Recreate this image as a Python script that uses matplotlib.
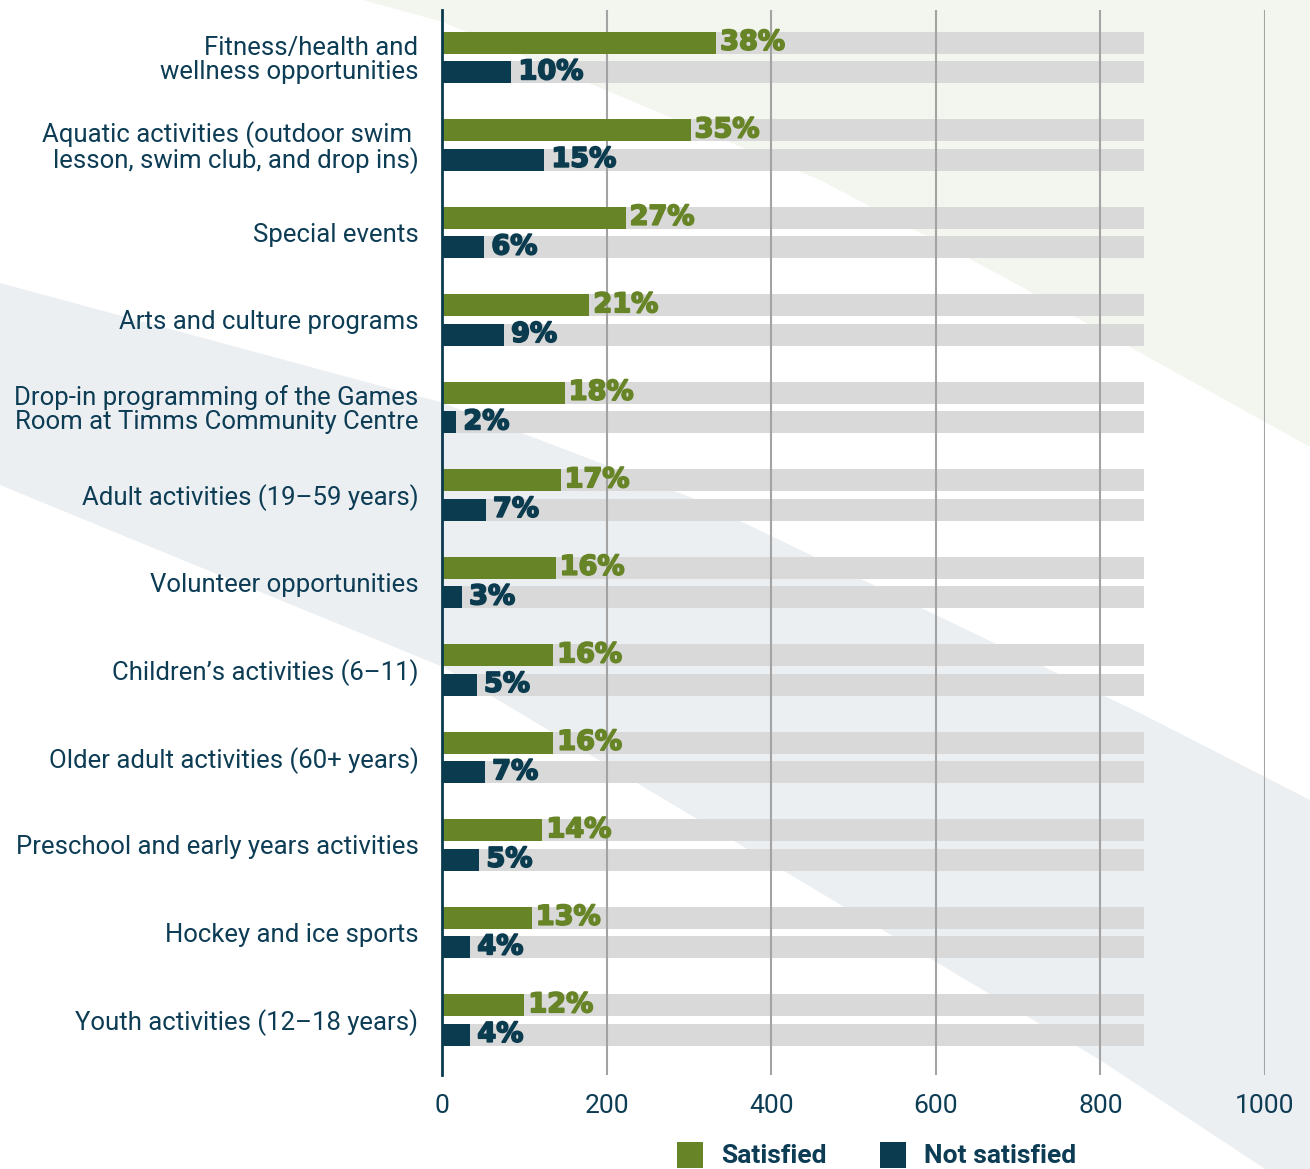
import matplotlib.pyplot as plt
import matplotlib.patheffects as pe
import numpy as np
from matplotlib.patches import Polygon, Rectangle

# survey results: respondents satisfied / not satisfied per program area
categories = [
    "Fitness/health and\nwellness opportunities",
    "Aquatic activities (outdoor swim \nlesson, swim club, and drop ins)",
    "Special events",
    "Arts and culture programs",
    "Drop-in programming of the Games\nRoom at Timms Community Centre",
    "Adult activities (19\u201359 years)",
    "Volunteer opportunities",
    "Children\u2019s activities (6\u201311)",
    "Older adult activities (60+ years)",
    "Preschool and early years activities",
    "Hockey and ice sports",
    "Youth activities (12\u201318 years)",
]
satisfied = [333, 302, 223, 179, 149, 144, 138, 135, 135, 122, 109, 100]
not_satisfied = [84, 124, 51, 75, 17, 53, 24, 42, 52, 45, 34, 34]
satisfied_pct = ["38%", "35%", "27%", "21%", "18%", "17%", "16%", "16%", "16%", "14%", "13%", "12%"]
not_satisfied_pct = ["10%", "15%", "6%", "9%", "2%", "7%", "3%", "5%", "7%", "5%", "4%", "4%"]
total_respondents = 853
x_ticks = [0, 200, 400, 600, 800, 1000]

GREEN = "#678527"
NAVY = "#0b3b4f"
TEXT = "#0d3c55"
TRACK = "#d9d9d9"
GRID = "#a3a3a3"

plt.rcParams["font.family"] = ["Roboto", "DejaVu Sans"]

W, H = 1310, 1169
fig = plt.figure(figsize=(W / 100, H / 100), dpi=100)
fig.patch.set_facecolor("white")


def px(points):
    # pixel coords (origin top-left) -> figure fraction
    return [(x / W, 1 - y / H) for x, y in points]


# decorative background swooshes
green_shape = [(363, 0), (1310, 0), (1310, 447), (1000, 275), (820, 180), (443, 22)]
band_shape = [(0, 283), (440, 402), (690, 497), (1140, 713), (1310, 800), (1310, 1169),
              (1265, 1169), (1100, 1060), (443, 667), (0, 485)]
fig.patches.append(Polygon(px(green_shape), closed=True, transform=fig.transFigure,
                           facecolor="#f3f5ef", edgecolor="none", zorder=-2))
fig.patches.append(Polygon(px(band_shape), closed=True, transform=fig.transFigure,
                           facecolor="#eceff2", edgecolor="none", zorder=-2))

ax = fig.add_axes([442 / W, 1 - 1075 / H, 823 / W, 1065 / H])
ax.set_facecolor("none")
ax.set_zorder(1)

y = np.arange(len(categories))
off = 0.169
h = 0.25

# grey tracks behind each bar
ax.barh(y - off, total_respondents, height=h, color=TRACK, zorder=1)
ax.barh(y + off, total_respondents, height=h, color=TRACK, zorder=1)
ax.barh(y - off, satisfied, height=h, color=GREEN, zorder=3)
ax.barh(y + off, not_satisfied, height=h, color=NAVY, zorder=3)

# heavy percentage labels (thin stroke in the same colour to fatten the glyphs)
for i in range(len(categories)):
    ax.text(satisfied[i] + 5, y[i] - off, satisfied_pct[i], color=GREEN,
            family="DejaVu Sans", fontsize=19.5, fontweight="bold",
            va="center", ha="left", zorder=4,
            path_effects=[pe.withStroke(linewidth=1.3, foreground=GREEN)])
    ax.text(not_satisfied[i] + 9, y[i] + off, not_satisfied_pct[i], color=NAVY,
            family="DejaVu Sans", fontsize=19.5, fontweight="bold",
            va="center", ha="left", zorder=4,
            path_effects=[pe.withStroke(linewidth=1.3, foreground=NAVY)])

ax.set_xlim(0, 1000)
ax.set_ylim(len(categories) - 1 + 0.629, -0.543)
ax.set_xticks(x_ticks)
ax.set_xticklabels([str(t) for t in x_ticks])
ax.set_yticks(y)
ax.set_yticklabels(categories, linespacing=0.98)

for t in x_ticks[1:]:
    ax.axvline(t, color=GRID, linewidth=1.5, zorder=2)

for s in ["top", "right", "bottom"]:
    ax.spines[s].set_visible(False)
ax.spines["left"].set_color(NAVY)
ax.spines["left"].set_linewidth(2)
ax.spines["left"].set_zorder(5)

ax.tick_params(axis="y", length=0, pad=17, labelsize=18.5, labelcolor=TEXT)
ax.tick_params(axis="x", length=0, pad=14, labelsize=19, labelcolor=TEXT)

# legend drawn by hand along the bottom edge
for x0, color, label in [(677, GREEN, "Satisfied"), (880, NAVY, "Not satisfied")]:
    fig.patches.append(Rectangle((x0 / W, 1 - 1168 / H), 26 / W, 26 / H,
                                 transform=fig.transFigure, facecolor=color,
                                 edgecolor="none", zorder=1))
    fig.text((x0 + 44) / W, 1 - 1156 / H, label, color=TEXT, fontsize=19,
             fontweight="bold", va="center", ha="left")

fig.savefig("out.png", dpi=100)
